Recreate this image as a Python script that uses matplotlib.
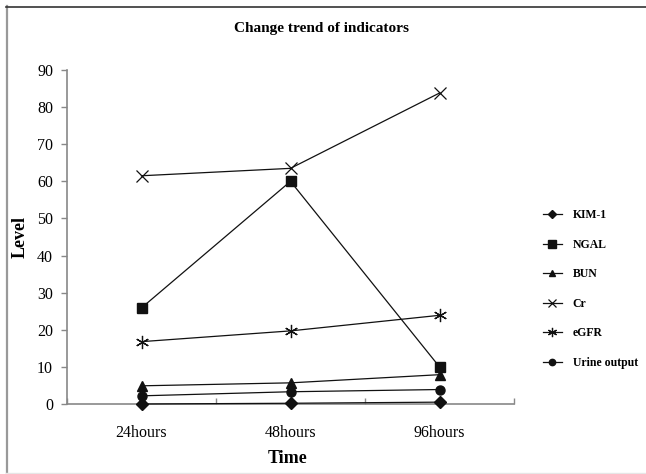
import matplotlib
matplotlib.use("Agg")
import matplotlib.pyplot as plt
from matplotlib.lines import Line2D

categories = ["24hours", "48hours", "96hours"]
kim1 = [0.0, 0.2, 0.5]
ngal = [25.9, 60.0, 10.0]
bun = [4.9, 5.7, 7.9]
cr = [61.5, 63.5, 83.8]
egfr = [16.8, 19.7, 23.9]
urine = [2.2, 3.3, 3.9]
series_names = ["KIM-1", "NGAL", "BUN", "Cr", "eGFR", "Urine output"]
yticks = [0, 10, 20, 30, 40, 50, 60, 70, 80, 90]

plt.rcParams['font.family'] = ['Liberation Serif', 'DejaVu Serif']

W, H = 646, 474
fig = plt.figure(figsize=(W / 100, H / 100), dpi=100)
ax = fig.add_axes([67/W, 70/H, (514-67)/W, (404-70)/H])

x = list(range(len(categories)))
lc = '#111111'
styles = [
    (kim1, 'D', 6),
    (ngal, 's', 7.5),
    (bun, '^', 7),
    (cr, 'x', 8.5),
    (egfr, (6, 2, 0), 9.5),
    (urine, 'o', 6.5),
]
for (vals, m, ms), name in zip(styles, series_names):
    if m == 'x' or isinstance(m, tuple):
        ax.plot(x, vals, color=lc, lw=0.9, marker=m, markersize=ms,
                markeredgewidth=0.9, label=name, clip_on=False, zorder=5)
    else:
        ax.plot(x, vals, color=lc, lw=0.9, marker=m, markersize=ms,
                markeredgecolor=lc, markerfacecolor=lc, label=name,
                clip_on=False, zorder=5)

ax.set_xlim(-0.5, 2.5)
ax.set_ylim(0, 90)
ax.set_yticks(yticks)
ax.set_xticks(x)
ax.set_xticklabels(categories)
ax.set_xticks([-0.5, 0.5, 1.5, 2.5], minor=True)
ax.tick_params(axis='x', which='major', length=0, pad=15, labelsize=11.5)
ax.tick_params(axis='x', which='minor', direction='in', length=4, color='#888888', width=1)
ax.tick_params(axis='y', direction='out', length=4, color='#888888', width=1, labelsize=11.5, pad=6)
for s in ['top', 'right']:
    ax.spines[s].set_visible(False)
for s in ['left', 'bottom']:
    ax.spines[s].set_color('#888888')
    ax.spines[s].set_linewidth(1.2)
    ax.spines[s].set_zorder(1)

fig.text(20/W, 1 - 237/H, "Level", rotation=90, ha='center', va='center',
         fontsize=13, fontweight='bold')
fig.text(288/W, 1 - 463/H, "Time", ha='center', va='baseline',
         fontsize=13, fontweight='bold')
fig.text(321/W, 1 - 32/H, "Change trend of indicators", ha='center', va='baseline',
         fontsize=11, fontweight='bold')

fig.legend(loc='center left', bbox_to_anchor=(543/W, 1 - 289/H), frameon=False,
           prop={'size': 8.5, 'weight': 'bold'}, handlelength=1.6, handletextpad=0.9,
           labelspacing=1.48, borderpad=0, borderaxespad=0, markerscale=0.7)

# figure frame
fig.add_artist(Line2D([6.5/W, 6.5/W], [0, 1 - 6/H], transform=fig.transFigure,
                      color='#999999', lw=1.6))
fig.add_artist(Line2D([6/W, 1], [1 - 6.5/H, 1 - 6.5/H], transform=fig.transFigure,
                      color='#333333', lw=1.2))
fig.add_artist(Line2D([6/W, 1], [1/H, 1/H], transform=fig.transFigure,
                      color='#e6e6e6', lw=1))

fig.savefig("out.png", dpi=100)
